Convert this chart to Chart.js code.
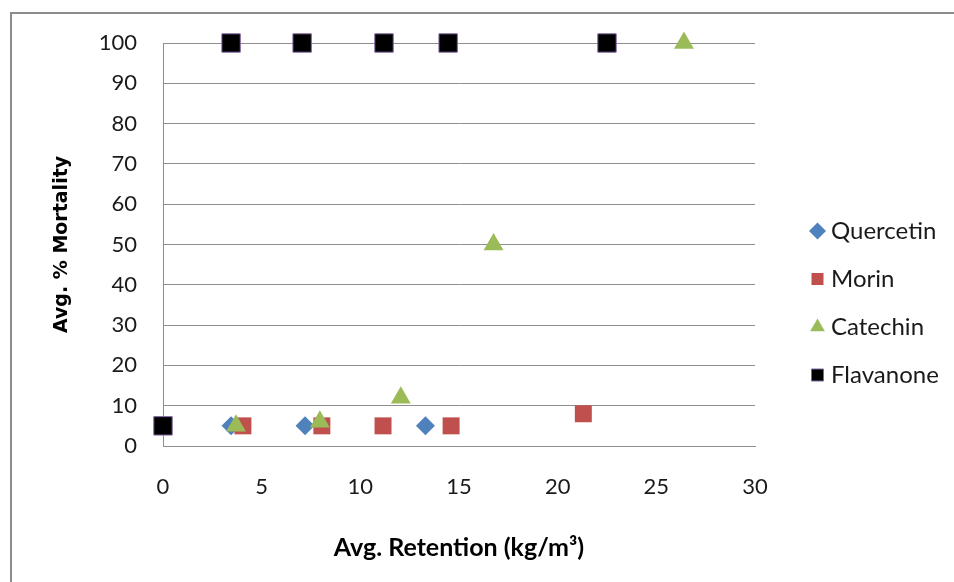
<!DOCTYPE html>
<html>
<head>
<meta charset="utf-8">
<script src="https://cdn.jsdelivr.net/npm/chart.js@4.4.1/dist/chart.umd.min.js"></script>
<style>
  html, body { margin: 0; padding: 0; background: #fff; overflow: hidden; width: 954px; height: 582px; }
  #frame { position: absolute; left: 10px; top: 12px; width: 2000px; height: 2000px; border: 2px solid #8c8c8c; }
  #chart { position: absolute; left: 0; top: 0; }
</style>
</head>
<body>
<div id="frame"></div>
<canvas id="chart" width="954" height="582"></canvas>
<script>
// Avg. retention (kg/m3) and avg. % mortality per flavonoid treatment
const quercetinX = [3.45, 7.2, 13.3];
const quercetinY = [5, 5, 5];

const morinX = [4.05, 8.05, 11.15, 14.6, 21.3];
const morinY = [5, 5, 5, 5, 8];

const catechinX = [3.7, 7.95, 12.05, 16.75, 26.4];
const catechinY = [5, 6, 12, 50, 100];

const flavanoneX = [0, 3.45, 7.05, 11.2, 14.45, 22.5];
const flavanoneY = [5, 100, 100, 100, 100, 100];

const seriesNames = ['Quercetin', 'Morin', 'Catechin', 'Flavanone'];

const xTicks = [0, 5, 10, 15, 20, 25, 30];
const yTicks = [0, 10, 20, 30, 40, 50, 60, 70, 80, 90, 100];

const toPoints = (xs, ys) => xs.map((x, i) => ({ x: x, y: ys[i] }));

const GRID = '#8e8e8e';
const TEXT = '#1a1a1a';

Chart.defaults.font.family = 'Lato';
Chart.defaults.color = TEXT;

// Place the legend block to the right of the plot
const legendPlacer = {
  id: 'legendPlacer',
  afterLayout(chart) {
    const lg = chart.legend;
    if (!lg) return;
    const pad = lg.options.labels.padding;
    const w = lg.width;
    lg.left = 816 - pad;
    lg.right = lg.left + w;
    lg.top = 219 - pad;
    lg.bottom = 582;
  }
};

new Chart(document.getElementById('chart'), {
  type: 'scatter',
  data: {
    datasets: [
      {
        label: seriesNames[0],
        data: toPoints(quercetinX, quercetinY),
        pointStyle: 'rectRot',
        pointRadius: 9.5,
        backgroundColor: '#4F81BD',
        borderColor: '#4F81BD',
        borderWidth: 0,
        order: 4,
        clip: false
      },
      {
        label: seriesNames[1],
        data: toPoints(morinX, morinY),
        pointStyle: 'rect',
        pointRadius: 12,
        backgroundColor: '#C0504D',
        borderColor: '#C0504D',
        borderWidth: 0,
        order: 3,
        clip: false
      },
      {
        label: seriesNames[2],
        data: toPoints(catechinX, catechinY),
        pointStyle: 'triangle',
        pointRadius: 11.5,
        backgroundColor: '#9BBB59',
        borderColor: '#9BBB59',
        borderWidth: 0,
        order: 2,
        clip: false
      },
      {
        label: seriesNames[3],
        data: toPoints(flavanoneX, flavanoneY),
        pointStyle: 'rect',
        pointRadius: 13,
        backgroundColor: '#000000',
        borderColor: '#8064A2',
        borderWidth: 1,
        order: 1,
        clip: false
      }
    ]
  },
  options: {
    responsive: false,
    animation: false,
    devicePixelRatio: 1,
    events: [],
    layout: { padding: { left: 0, top: 43, right: 199, bottom: 0 } },
    plugins: {
      tooltip: { enabled: false },
      legend: {
        position: 'chartArea',
        align: 'start',
        labels: {
          usePointStyle: true,
          boxWidth: 3,
          boxHeight: 12,
          padding: 24,
          color: TEXT,
          font: { family: 'Lato', size: 24 },
          sort: (a, b) => a.datasetIndex - b.datasetIndex
        }
      }
    },
    scales: {
      x: {
        type: 'linear',
        min: 0,
        max: 30,
        afterBuildTicks(scale) { scale.ticks = xTicks.map(v => ({ value: v })); },
        afterFit(scale) { scale.height = 136; },
        ticks: { padding: 28, color: TEXT, font: { family: 'Lato', size: 22 } },
        grid: { display: false, drawTicks: false },
        border: { display: true, color: GRID, width: 1 },
        title: {
          display: true,
          text: 'Avg. Retention (kg/m³)',
          color: '#000',
          font: { family: 'Lato', size: 25, weight: 'bold' },
          padding: { top: 0, bottom: 19 }
        }
      },
      y: {
        type: 'linear',
        min: 0,
        max: 100,
        afterBuildTicks(scale) { scale.ticks = yTicks.map(v => ({ value: v })); },
        afterFit(scale) { scale.width = 163; },
        ticks: { padding: 26, color: TEXT, font: { family: 'Lato', size: 22 } },
        grid: { color: GRID, lineWidth: 1, drawTicks: false },
        border: { display: true, color: GRID, width: 1 },
        title: {
          display: true,
          text: 'Avg. % Mortality',
          color: '#000',
          font: { family: 'DejaVu Sans', size: 19, weight: 'bold' },
          padding: { top: 51, bottom: 0 }
        }
      }
    }
  },
  plugins: [legendPlacer]
});
</script>
</body>
</html>
